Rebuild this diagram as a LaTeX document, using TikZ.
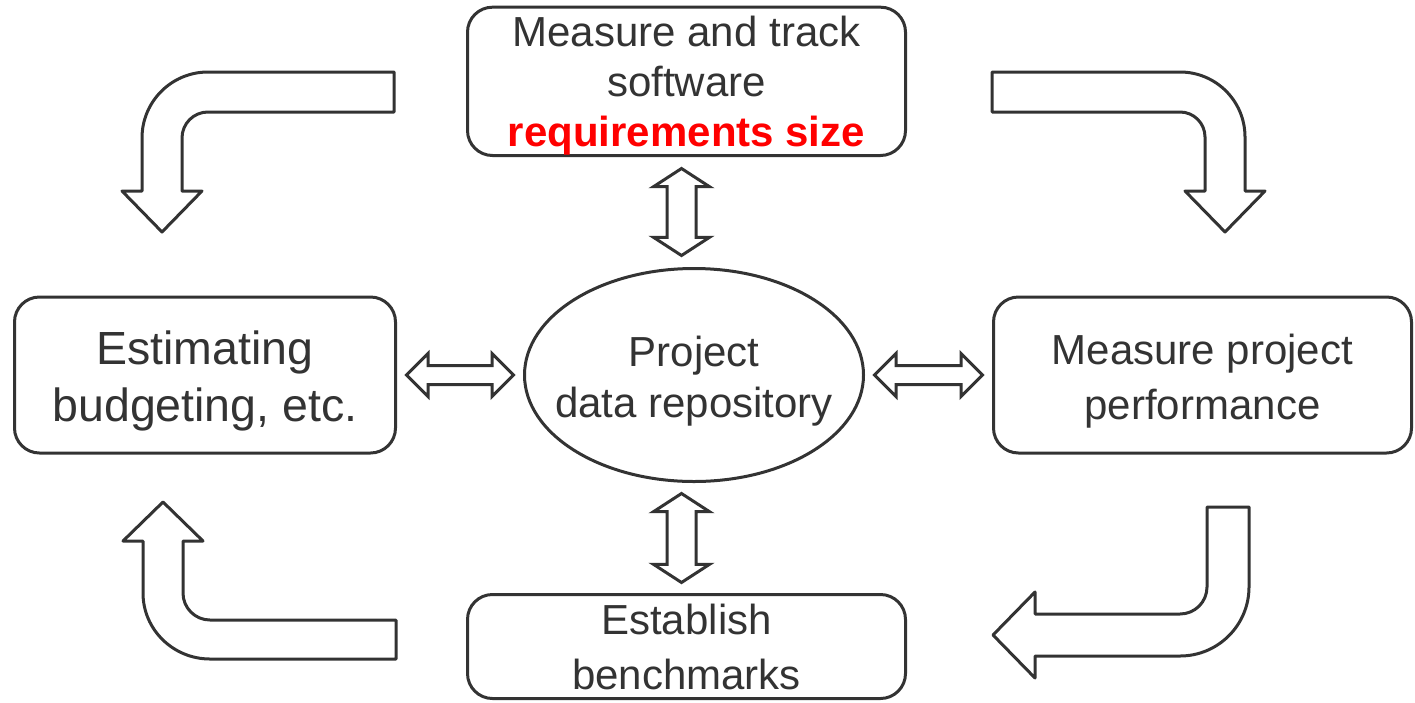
\documentclass[tikz,border=0pt]{standalone}
\usepackage{fontspec}
\setmainfont{Liberation Sans}
\usetikzlibrary{positioning,shapes.geometric,shapes.arrows}
\definecolor{ink}{HTML}{333333}
\begin{document}
\begin{tikzpicture}[x=1pt, y=-1pt, line width=3pt, text=ink,
    box/.style = {draw=ink, rectangle, rounded corners=25pt, align=center, inner sep=0pt},
    repo/.style = {draw=ink, ellipse, align=center, inner xsep=-20pt, inner ysep=0pt},
    twoway/.style = {draw=ink, double arrow, double arrow head extend=12pt, inner xsep=0pt, inner ysep=8pt},
    updown/.style = {draw=ink, double arrow, rotate=90, double arrow tip angle=114, double arrow head extend=13.5pt, inner xsep=0pt, inner ysep=13pt},
    bent/.style = {draw=ink, line join=round}]
    \useasboundingbox (0,0) rectangle (1415,702);

    \node[repo, minimum width=339pt, minimum height=213pt, font=\fontsize{42}{51}\selectfont] (data) at (694,375) {\rule{0pt}{43.6pt}Project\\data repository};
    \node[box, minimum width=438pt, minimum height=147pt, font=\fontsize{42}{50}\selectfont] (size) [above=110pt of data, xshift=-7.5pt] {\rule{0pt}{39.6pt}Measure and track\\software\\{\color{red}\bfseries requirements size}};
    \node[box, minimum width=381pt, minimum height=156pt, font=\fontsize{46.5}{57}\selectfont] (est) [left=126pt of data] {\rule{0pt}{46pt}Estimating\\budgeting, etc.};
    \node[box, minimum width=418pt, minimum height=156pt, font=\fontsize{42}{55}\selectfont] (perf) [right=127pt of data] {\rule{0pt}{42.6pt}Measure project\\performance};
    \node[box, minimum width=438pt, minimum height=104pt, font=\fontsize{42}{55}\selectfont] (bench) [below=110pt of data, xshift=-7.5pt] {Establish\\benchmarks};

    \path (est) -- node[twoway, minimum height=107pt] {} (data);
    \path (data) -- node[twoway, minimum height=108pt] {} (perf);
    \path ([xshift=-5pt]size.south) -- node[updown, minimum height=87pt] {} ([xshift=-5pt]size.south |- data.north);
    \path ([xshift=-5pt]bench.north) -- node[updown, minimum height=89pt] {} ([xshift=-5pt]bench.north |- data.south);

    \draw[bent] (394,72) -- (208,72) .. controls (171.5,72) and (142,101.5) .. (142,138) -- (142,191) -- (122,191) -- (162,232) -- (202,191) -- (182,191) -- (182,138) .. controls (182,123.6) and (193.6,112) .. (208,112) -- (394,112) -- cycle;
    \draw[bent] (992,72) -- (1180,72) .. controls (1215.9,72) and (1245,101) .. (1245,137) -- (1245,191) -- (1265,191) -- (1225,232) -- (1185,191) -- (1205,191) -- (1205,137) .. controls (1205,123.2) and (1193.8,112) .. (1180,112) -- (992,112) -- cycle;
    \draw[bent] (396,620) -- (210,620) .. controls (195.1,620) and (183,607.9) .. (183,593) -- (183,541) -- (203,541) -- (163,502) -- (123,541) -- (143,541) -- (143,593) .. controls (143,629.7) and (173.3,659) .. (210,659) -- (396,659) -- cycle;
    \draw[bent] (1207,507) -- (1249,507) -- (1249,587) .. controls (1249,625.1) and (1218.1,656) .. (1180,656) -- (1035,656) -- (1035,678) -- (993,635) -- (1035,592) -- (1035,614) -- (1180,614) .. controls (1194.9,614) and (1207,601.9) .. (1207,587) -- cycle;
\end{tikzpicture}
\end{document}
